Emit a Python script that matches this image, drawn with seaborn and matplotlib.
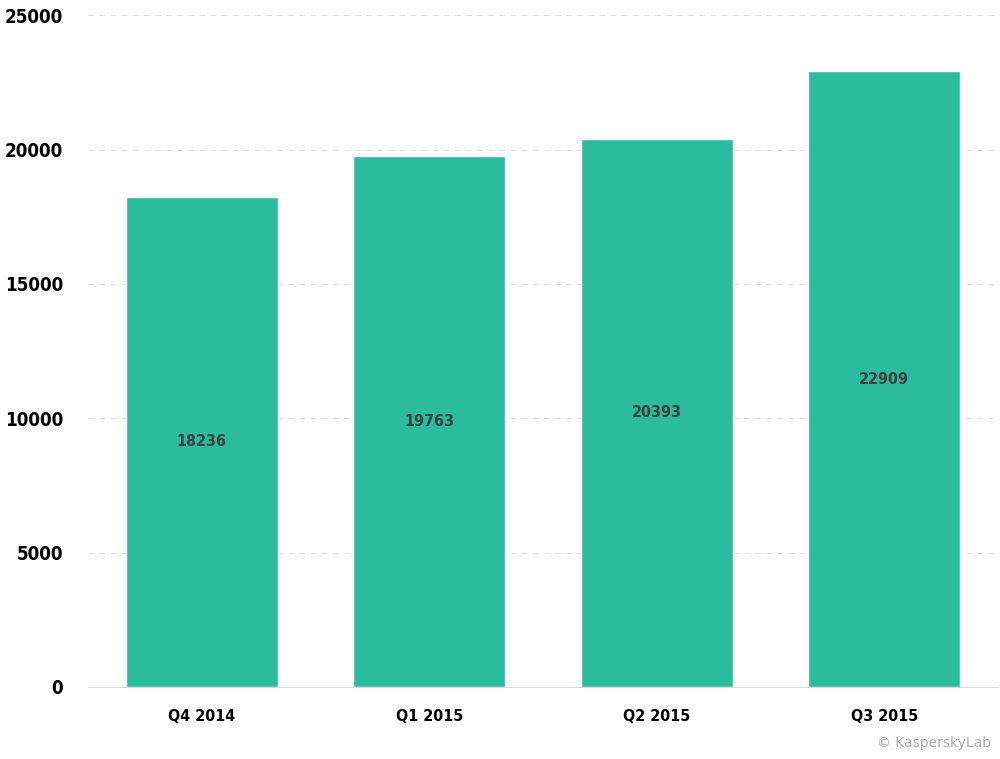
import matplotlib
matplotlib.use("Agg")
import matplotlib.pyplot as plt
import seaborn as sns
import pandas as pd

quarters = ["Q4 2014", "Q1 2015", "Q2 2015", "Q3 2015"]
counts = [18236, 19763, 20393, 22909]
y_ticks = [0, 5000, 10000, 15000, 20000, 25000]

sns.set_style("white")
plt.rcParams["font.family"] = ["DejaVu Sans"]
plt.rcParams["font.stretch"] = "condensed"

df = pd.DataFrame({"Quarter": quarters, "Count": counts})

fig = plt.figure(figsize=(10, 7.59), dpi=100)
ax = fig.add_axes([0.088, 0.095, 0.910, 0.885])

sns.barplot(data=df, x="Quarter", y="Count", color="#2BBB9D", saturation=1,
            width=0.67, ax=ax)

ax.set_ylim(0, 25000)
ax.set_xlim(-0.5, 3.5)
ax.set_yticks(y_ticks)
ax.set_yticklabels([str(t) for t in y_ticks], fontsize=13.5, fontweight="bold",
                   color="black")
ax.set_xticklabels(quarters, fontsize=11.5, fontweight="bold", color="black")
ax.set_xlabel("")
ax.set_ylabel("")
ax.yaxis.grid(True, linestyle=(0, (5, 5)), color="#DDDDDD", linewidth=0.8)
ax.set_axisbelow(True)
for s in ["top", "right", "left"]:
    ax.spines[s].set_visible(False)
ax.spines["bottom"].set_color("#D9D9D9")
ax.tick_params(axis="both", length=0)
ax.tick_params(axis="y", pad=18)
ax.tick_params(axis="x", pad=16)

for i, v in enumerate(counts):
    ax.text(i, v / 2, str(v), ha="center", va="center", fontsize=11.5,
            fontweight="bold", color="#404040")

fig.text(0.991, 0.012, "\u00a9 KasperskyLab", ha="right", va="bottom",
         fontsize=10, color="#AAAAAA", fontstretch="normal")

fig.savefig("out.png", dpi=100)
